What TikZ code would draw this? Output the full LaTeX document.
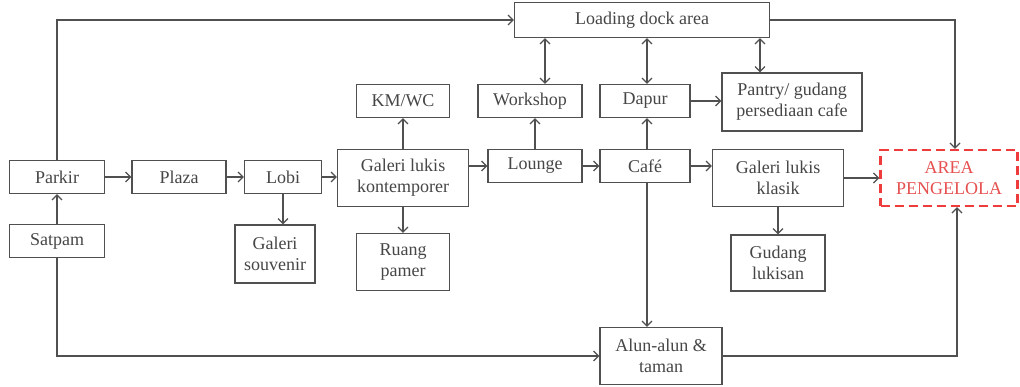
\documentclass[tikz,border=0pt]{standalone}
\usepackage{fontspec}
\setmainfont{Liberation Serif}
\usetikzlibrary{arrows.meta,calc,positioning}

\begin{document}
\begin{tikzpicture}[
    x=1pt, y=-1pt,                   % 1 drawing unit = 1 px of the plan
    >={Straight Barb[length=5pt,width=10pt]},
    font=\fontsize{18}{21}\selectfont,
    room/.style={draw=lineC,line width=1.2pt,text=textC,align=center,inner sep=1pt},
    flow/.style={->,lineC,line width=1.2pt},
    both/.style={<->,lineC,line width=1.2pt},
    staff/.style={draw=areaC,dashed,dash pattern=on 9pt off 5pt,line width=2.4pt,
                  text=areaT,align=center,inner sep=1pt},
  ]
  \definecolor{lineC}{RGB}{80,80,80}
  \definecolor{textC}{RGB}{70,70,70}
  \definecolor{areaC}{RGB}{238,60,60}
  \definecolor{areaT}{RGB}{230,80,80}

  \useasboundingbox[fill=white] (0,0) rectangle (1020,387);

  %% ---------------- rooms ----------------
  \node[room,minimum width=95,minimum height=33] (parkir) at (57,177) {Parkir};
  \node[room,minimum width=95,minimum height=33] (satpam) at (57,241) {Satpam};
  \node[room,minimum width=94,minimum height=33] (plaza)  at (179,177) {Plaza};
  \node[room,minimum width=77,minimum height=33] (lobi)   at (283,177) {Lobi};
  \node[room,minimum width=80,minimum height=58] (souv)   at (275,254) {Galeri\\souvenir};
  \node[room,minimum width=131,minimum height=57] (kont)  at (403,178) {Galeri lukis\\kontemporer};
  \node[room,minimum width=93,minimum height=33] (kmwc)   at (403,101) {KM/WC};
  \node[room,minimum width=93,minimum height=57] (pamer)  at (403,262) {Ruang\\pamer};
  \node[room,minimum width=104,minimum height=33] (work)  at (530,101) {Workshop};
  \node[room,minimum width=94,minimum height=33] (lounge) at (535,166) {Lounge};
  \node[room,minimum width=255,minimum height=35] (dock)  at (642,20) {Loading dock area};
  \node[room,minimum width=90,minimum height=33] (dapur)  at (645,101) {Dapur};
  \node[room,minimum width=90,minimum height=33] (cafe)   at (645,166) {Café};
  \node[room,minimum width=140,minimum height=58] (pantry) at (792,102) {Pantry/ gudang\\persediaan cafe};
  \node[room,minimum width=131,minimum height=57] (klasik) at (778,178) {Galeri lukis\\klasik};
  \node[room,minimum width=94,minimum height=56] (gudang) at (778,263) {Gudang\\lukisan};
  \node[room,minimum width=122,minimum height=57] (alun)  at (661,356) {Alun-alun \&\\taman};
  \node[staff,minimum width=137,minimum height=56] (area) at (949,178) {AREA\\PENGELOLA};

  %% ---------------- entrance ----------------
  \draw[flow] (satpam) -- (parkir);
  \draw[flow] (parkir) -- (plaza);
  \draw[flow] (plaza) -- (lobi);
  \draw[flow] (lobi.east) -- (lobi.east -| kont.west);
  \draw[flow] (lobi.south) -- (lobi.south |- souv.north);
  \draw[flow] (parkir.north) |- (dock.west);
  \draw[flow] (satpam.south) |- (alun.west);

  %% ---------------- galleries ----------------
  \draw[flow] (kont.north) -- (kmwc.south);
  \draw[flow] (kont.south) -- (pamer.north);
  \draw[flow] (kont.east |- lounge.west) -- (lounge.west);
  \draw[flow] (lounge.north) -- (lounge.north |- work.south);
  \draw[flow] (lounge) -- (cafe);
  \draw[flow] (cafe) -- (klasik.west |- cafe);
  \draw[flow] (klasik.south) -- (gudang.north);
  \draw[flow] (klasik.east) -- (area.west);

  %% ---------------- service ----------------
  \draw[both] ([xshift=15pt]work.north) -- ([xshift=15pt]work.north |- dock.south);
  \draw[both] ([xshift=2pt]dapur.north) -- ([xshift=2pt]dapur.north |- dock.south);
  \draw[both] ([xshift=-32pt]pantry.north) -- ([xshift=-32pt]pantry.north |- dock.south);
  \draw[flow] ([xshift=2pt]cafe.north) -- ([xshift=2pt]cafe.north |- dapur.south);
  \draw[flow] (dapur.east) -- (dapur.east -| pantry.west);
  \draw[flow] ([xshift=2pt]cafe.south) -- ([xshift=2pt]cafe.south |- alun.north);
  \draw[flow] (dock.east) -| ([xshift=6pt]area.north);
  \draw[flow] (alun.east) -| ([xshift=8pt]area.south);
\end{tikzpicture}
\end{document}
